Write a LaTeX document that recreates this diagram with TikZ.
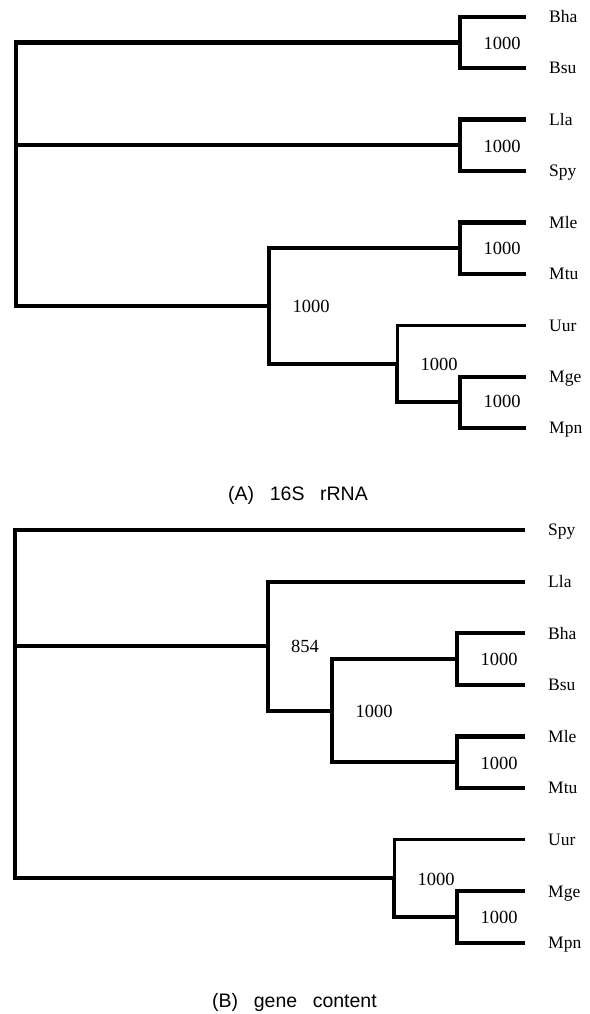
\documentclass[tikz,border=0pt]{standalone}
\usepackage{fontspec}
\setmainfont{Liberation Serif}
\setsansfont{Liberation Sans}
\usetikzlibrary{calc}

\begin{document}
\begin{tikzpicture}[x=1pt,y=-1pt,
    branch/.style={line width=4.2pt,line join=miter},
    thinbranch/.style={line width=3pt,line join=miter},
    taxon/.style={anchor=base west,inner sep=0pt,font=\fontsize{17.5}{20}\selectfont},
    support/.style={anchor=base west,inner sep=0pt,font=\fontsize{18.5}{21}\selectfont},
    caption/.style={anchor=base,inner sep=0pt,font=\sffamily\fontsize{19.5}{23}\selectfont}]
    \useasboundingbox (0,0) rectangle (589,1014);

    % (A) 16S rRNA
    \foreach \t [count=\i from 0] in {Bha,Bsu,Lla,Spy,Mle,Mtu,Uur,Mge,Mpn} {
        \coordinate (a\t) at (526,{16.8+51.4*\i});
        \node[taxon] (na\t) at (549,{22.6+51.4*\i}) {\t};
    }
    \coordinate (aBB) at (460,42.5);
    \coordinate (aLS) at (460,145.3);
    \coordinate (aMM) at (460,248.1);
    \coordinate (aMP) at (460,402.3);
    \coordinate (aU) at (397,363.8);
    \coordinate (aX) at (269,306);
    \coordinate (aR) at (16,145.3);

    \draw[branch] (aBha) -| (aBB) |- (aBsu);
    \draw[branch] (aLla) -| (aLS) |- (aSpy);
    \draw[branch] (aMle) -| (aMM) |- (aMtu);
    \draw[branch] (aMge) -| (aMP) |- (aMpn);
    \draw[thinbranch] (aUur) -| (aU);
    \draw[branch] (aU) |- (aMP);
    \draw[branch] (aMM) -| (aX) |- (aU);
    \draw[branch] (aBB) -| (aR) |- (aX);
    \draw[branch] (aR) -- (aLS);

    \node[support] (saBB) at (483.5,49.2) {1000};
    \node[support] (saLS) at (483.5,152) {1000};
    \node[support] (saMM) at (483.5,254.8) {1000};
    \node[support] (saMP) at (483.5,407.5) {1000};
    \node[support] (saU) at (420.5,370.5) {1000};
    \node[support] (saX) at (292.5,312.7) {1000};

    \node[caption] (capA) at (298,500.7) {(A)\hspace{0.8em}16S\hspace{0.8em}rRNA};

    % (B) gene content
    \foreach \t [count=\i from 0] in {Spy,Lla,Bha,Bsu,Mle,Mtu,Uur,Mge,Mpn} {
        \coordinate (b\t) at (525,{530+51.6*\i});
        \node[taxon] (nb\t) at (548,{535.8+51.6*\i}) {\t};
    }
    \coordinate (bBB) at (457,659);
    \coordinate (bMM) at (457,762.2);
    \coordinate (bMP) at (457,917);
    \coordinate (bC) at (332,710.6);
    \coordinate (bL) at (268,646.1);
    \coordinate (bU) at (394,878.3);
    \coordinate (bR) at (15,646.1);

    \draw[branch] (bBha) -| (bBB) |- (bBsu);
    \draw[branch] (bMle) -| (bMM) |- (bMtu);
    \draw[branch] (bMge) -| (bMP) |- (bMpn);
    \draw[branch] (bBB) -| (bC) |- (bMM);
    \draw[branch] (bLla) -| (bL) |- (bC);
    \draw[thinbranch] (bUur) -| (bU);
    \draw[branch] (bU) |- (bMP);
    \draw[branch] (bSpy) -| (bR) |- (bU);
    \draw[branch] (bR) -- (bL);

    \node[support] (sbBB) at (480.5,665.8) {1000};
    \node[support] (sbMM) at (480.5,769) {1000};
    \node[support] (sbMP) at (480.5,923.8) {1000};
    \node[support] (sbU) at (417.5,885) {1000};
    \node[support] (sbC) at (355.5,717.4) {1000};
    \node[support] (sbL) at (291,652.8) {854};

    \node[caption] (capB) at (294.5,1007) {(B)\hspace{0.8em}gene\hspace{0.8em}content};
\end{tikzpicture}
\end{document}
